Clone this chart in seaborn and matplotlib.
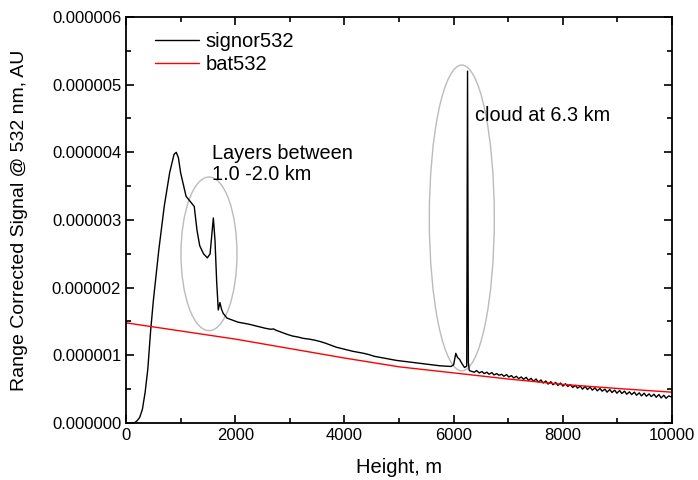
import numpy as np
import pandas as pd
import matplotlib
matplotlib.use("Agg")
import matplotlib.pyplot as plt
import seaborn as sns
from matplotlib.patches import Ellipse
from matplotlib.ticker import MultipleLocator, FormatStrFormatter

# signal (height in m, signal in 1e-6 AU)
sig_h = [0, 100, 150, 200, 250, 300, 350, 400, 450, 500, 600, 700, 800, 880, 920,
         960, 1000, 1100, 1200, 1250, 1300, 1350, 1420, 1490, 1540, 1580, 1600,
         1630, 1660, 1690, 1720, 1750, 1780, 1850, 1950, 2050, 2150, 2250, 2350,
         2450, 2550, 2650, 2700, 2750, 2850, 2950, 3050, 3150, 3250, 3350, 3450,
         3550, 3650, 3750, 3850, 3950, 4050, 4150, 4250, 4350, 4450, 4550, 4650,
         4750, 4850, 4950, 5050, 5150, 5250, 5350, 5450, 5550, 5650, 5750, 5850,
         5950, 6000, 6040, 6070, 6110, 6150, 6200, 6240, 6255, 6270, 6285, 6300,
         6340, 6380, 6420, 6470, 6520, 6560, 6610, 6650, 6700, 6740, 6790, 6830,
         6880, 6920, 6970, 7010, 7060, 7100, 7150, 7190, 7240, 7280, 7330, 7370,
         7420, 7460, 7510, 7550, 7600, 7640, 7690, 7730, 7780, 7820, 7870, 7910,
         7960, 8000, 8050, 8090, 8140, 8180, 8230, 8270, 8320, 8360, 8410, 8450,
         8500, 8540, 8590, 8630, 8680, 8720, 8770, 8810, 8860, 8900, 8950, 8990,
         9040, 9080, 9130, 9170, 9220, 9260, 9310, 9350, 9400, 9440, 9490, 9530,
         9580, 9620, 9670, 9710, 9760, 9800, 9850, 9890, 9940, 10000]
sig_v = [0.0, 0.0, 0.0, 0.03, 0.08, 0.2, 0.45, 0.8, 1.35, 1.8, 2.55, 3.2, 3.7, 3.97, 4.0,
         3.92, 3.7, 3.35, 3.25, 3.2, 2.85, 2.62, 2.5, 2.44, 2.5, 2.85, 3.03,
         2.7, 2.1, 1.67, 1.78, 1.68, 1.62, 1.55, 1.52, 1.49, 1.475, 1.46, 1.44,
         1.42, 1.40, 1.385, 1.39, 1.37, 1.34, 1.31, 1.285, 1.27, 1.25, 1.24, 1.225,
         1.205, 1.18, 1.15, 1.12, 1.10, 1.08, 1.06, 1.045, 1.03, 1.01, 0.985, 0.97,
         0.955, 0.94, 0.925, 0.915, 0.905, 0.895, 0.885, 0.875, 0.865, 0.855, 0.845, 0.84,
         0.835, 0.86, 1.03, 0.97, 0.94, 0.88, 0.82, 0.84, 5.2, 0.9, 0.78, 0.77,
         0.76, 0.75, 0.775, 0.74, 0.76, 0.73, 0.75, 0.72, 0.745, 0.71, 0.73, 0.705,
         0.72, 0.69, 0.715, 0.68, 0.70, 0.665, 0.69, 0.655, 0.68, 0.645, 0.675, 0.63,
         0.66, 0.615, 0.65, 0.605, 0.635, 0.59, 0.62, 0.575, 0.61, 0.565, 0.60, 0.555,
         0.59, 0.545, 0.58, 0.54, 0.565, 0.525, 0.555, 0.515, 0.545, 0.50, 0.54, 0.495,
         0.53, 0.485, 0.52, 0.475, 0.51, 0.47, 0.50, 0.455, 0.495, 0.45, 0.485, 0.44,
         0.48, 0.435, 0.47, 0.425, 0.46, 0.42, 0.455, 0.41, 0.445, 0.40, 0.44, 0.395,
         0.43, 0.39, 0.425, 0.38, 0.42, 0.37, 0.41, 0.365, 0.40, 0.38]

# molecular (bat532) curve
bat_h = [0, 1000, 2000, 3000, 4000, 5000, 6000, 7000, 8000, 9000, 10000]
bat_v = [1.48, 1.36, 1.24, 1.10, 0.96, 0.83, 0.74, 0.65, 0.57, 0.51, 0.455]

sig = pd.DataFrame({"h": sig_h, "v": np.array(sig_v) * 1e-6})
bat = pd.DataFrame({"h": bat_h, "v": np.array(bat_v) * 1e-6})

sns.set_style("ticks", {"axes.edgecolor": "black", "text.color": "black",
                        "xtick.color": "black", "ytick.color": "black",
                        "axes.labelcolor": "black"})
plt.rcParams["font.family"] = ["Liberation Sans", "DejaVu Sans"]

fig = plt.figure(figsize=(6.98, 4.8), dpi=100)
ax = fig.add_axes([0.1805, 0.1188, 0.7823, 0.8458])

sns.lineplot(data=sig, x="h", y="v", color="black", linewidth=1.0, label="signor532", ax=ax)
sns.lineplot(data=bat, x="h", y="v", color="red", linewidth=1.0, label="bat532", ax=ax)

ax.add_patch(Ellipse((1520, 2.5e-6), 1026, 2.27e-6, fill=False, edgecolor="#bbbbbb", linewidth=1))
ax.add_patch(Ellipse((6150, 3.03e-6), 1190, 4.52e-6, fill=False, edgecolor="#bbbbbb", linewidth=1))

ax.text(1580, 4.12e-6, "Layers between\n1.0 -2.0 km", fontsize=14.3, va="top", linespacing=1.12)
ax.text(6390, 4.55e-6, "cloud at 6.3 km", fontsize=14.3, va="center")

ax.set_xlim(0, 10000)
ax.set_ylim(0, 6e-6)
ax.xaxis.set_major_locator(MultipleLocator(2000))
ax.xaxis.set_minor_locator(MultipleLocator(1000))
ax.yaxis.set_major_locator(MultipleLocator(1e-6))
ax.yaxis.set_minor_locator(MultipleLocator(0.5e-6))
ax.yaxis.set_major_formatter(FormatStrFormatter("%.6f"))
ax.tick_params(which="both", direction="in", top=True, right=True, labelsize=12)
ax.tick_params(which="major", length=6, width=1.2)
ax.tick_params(which="minor", length=3.5, width=1.2)
for s in ax.spines.values():
    s.set_linewidth(1.3)

ax.set_xlabel("Height, m", fontsize=14.5, labelpad=11)
ax.set_ylabel("Range Corrected Signal @ 532 nm, AU", fontsize=14, labelpad=17)

ax.legend(loc="upper left", bbox_to_anchor=(0.053, 0.962), frameon=False,
          fontsize=14.5, handlelength=2.2, borderaxespad=0, borderpad=0,
          labelspacing=0.2, handletextpad=0.3)

fig.savefig("out.png", dpi=100)
